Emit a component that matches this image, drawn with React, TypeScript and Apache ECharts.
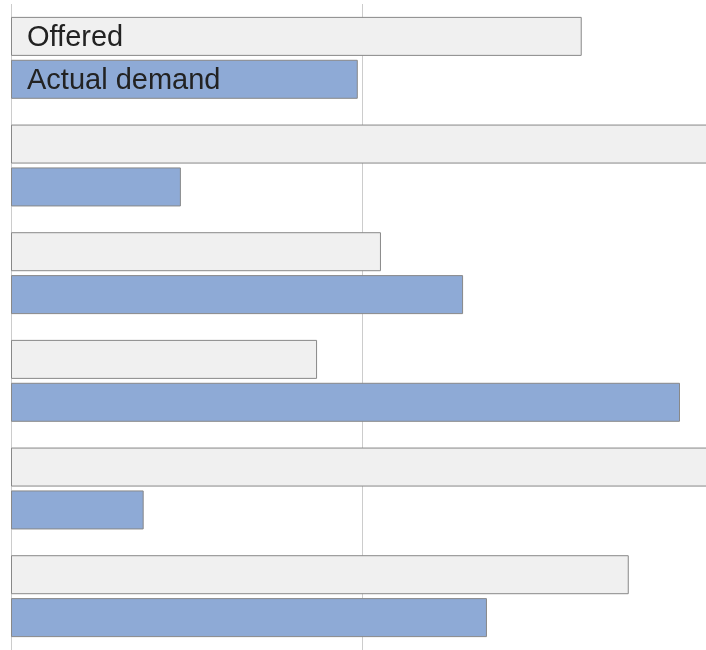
import React, { useEffect, useRef } from "react";
import * as echarts from "echarts";

const categories = ["Item 1", "Item 2", "Item 3", "Item 4", "Item 5", "Item 6"];
const offered = [81.3, 100, 52.7, 43.6, 100, 88.0];
const actualDemand = [49.4, 24.2, 64.4, 95.3, 18.9, 67.8];
const seriesNames = ["Offered", "Actual demand"];

export default function App() {
  const ref = useRef<HTMLDivElement>(null);
  useEffect(() => {
    if (!ref.current) return;
    const chart = echarts.init(ref.current, undefined, { renderer: "svg" });
    const labelFirst = (vals: number[], name: string) =>
      vals.map((v, i) =>
        i === 0
          ? {
              value: v,
              label: {
                show: true,
                position: "insideLeft",
                offset: [11, 0],
                formatter: name,
                color: "#222",
                fontSize: 29,
                fontFamily: "Liberation Sans, Arial, sans-serif",
              },
            }
          : v
      );
    chart.setOption({
      animation: false,
      grid: { left: 11, right: 7, top: 4, bottom: 0, containLabel: false },
      xAxis: {
        type: "value",
        min: 0,
        max: 100,
        interval: 50,
        axisLabel: { show: false },
        axisLine: { show: false },
        axisTick: { show: false },
        splitLine: { show: true, lineStyle: { color: "#cccccc", width: 1 } },
      },
      yAxis: {
        type: "category",
        data: categories,
        inverse: true,
        axisLabel: { show: false },
        axisLine: { show: false },
        axisTick: { show: false },
      },
      series: [
        {
          name: seriesNames[0],
          type: "bar",
          data: labelFirst(offered, seriesNames[0]),
          barWidth: 39,
          barGap: "10%",
          itemStyle: { color: "#f0f0f0", borderColor: "#888888", borderWidth: 1 },
        },
        {
          name: seriesNames[1],
          type: "bar",
          data: labelFirst(actualDemand, seriesNames[1]),
          barWidth: 39,
          barGap: "10%",
          itemStyle: { color: "#8eaad6", borderColor: "#888888", borderWidth: 1 },
        },
      ],
    });
    return () => chart.dispose();
  }, []);
  return (
    <div
      style={{ position: "fixed", left: 0, top: 0, width: 706, height: 650, overflow: "hidden" }}
    >
      <div ref={ref} style={{ width: 720, height: 650 }} />
    </div>
  );
}
